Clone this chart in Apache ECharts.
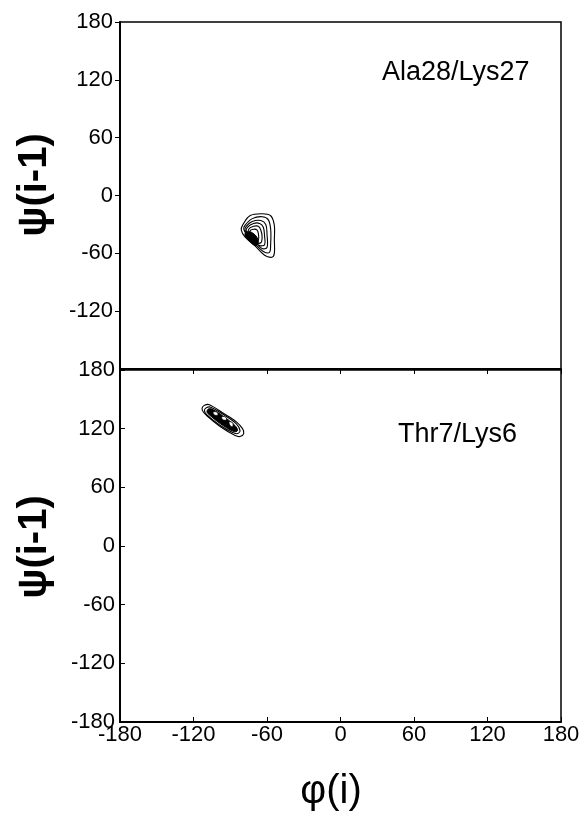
<!DOCTYPE html>
<html>
<head>
<meta charset="utf-8">
<script src="https://cdn.jsdelivr.net/npm/echarts@6/dist/echarts.min.js"></script>
<style>html,body{margin:0;padding:0;background:#fff}#c{width:584px;height:813px}</style>
</head>
<body>
<div id="c"></div>
<script>
// Tick values (degrees)
const phiTicks = [-180, -120, -60, 0, 60, 120, 180];
const psiTicks = [-180, -120, -60, 0, 60, 120, 180];
const panelLabels = ['Ala28/Lys27', 'Thr7/Lys6'];
const xName = 'φ(i)';
const yName = 'ψ(i-1)';

// Contour rings for Ala28/Lys27 (phi, psi), outer to inner
const alaRing1 = [[-80,-31],[-74,-21],[-64,-19],[-57,-21],[-54,-31],[-54,-46],[-54,-60],[-56,-64],[-62,-62],[-70,-52],[-78,-43],[-81,-36]];
const alaRing2 = [[-78,-31],[-72,-24],[-64,-22],[-59,-25],[-57,-35],[-57,-50],[-58,-59],[-63,-58],[-70,-50],[-76,-42],[-79,-35]];
const alaRing3 = [[-77,-32],[-72,-27],[-65,-26],[-61,-30],[-60,-40],[-60,-54],[-64,-55],[-70,-48],[-75,-42],[-78,-36]];
const alaRing4 = [[-76,-33],[-71,-29],[-66,-29],[-63,-33],[-62,-42],[-62,-51],[-66,-52],[-71,-47],[-75,-42],[-77,-37]];
const alaRing5 = [[-75,-35],[-71,-32],[-67,-32],[-65,-36],[-64,-43],[-65,-49],[-69,-49],[-72,-46],[-75,-41]];
const alaRing6 = [[-74,-37],[-71,-35],[-68,-36],[-67,-40],[-67,-46],[-70,-47],[-73,-43]];
const alaCore  = [[-77,-38],[-73,-38],[-69,-42],[-67,-48],[-69,-52],[-72,-50],[-76,-45],[-78,-41]];

// Contour rings for Thr7/Lys6
const thrRing1 = [[-113,141],[-111,144],[-107,144.5],[-96,136],[-85,127],[-80,120],[-79,115],[-82,112],[-86,113],[-98,122],[-108,132],[-112,137]];
const thrRing2 = [[-110,141],[-106,142],[-95,134],[-85,125],[-82,118],[-84,115],[-88,116],[-99,124],[-109,134],[-111,138]];
const thrCore  = [[-108,140],[-105,140],[-96,133],[-86,123],[-84,118],[-87,117],[-98,125],[-107,134],[-109,137]];
const thrHole1 = [[-104,137],[-101,137],[-100,134],[-103,134]];
const thrHole2 = [[-97,132],[-94,132],[-93,129],[-96,129]];
const thrHole3 = [[-91,127],[-88,126],[-88,122],[-90,123]];

const alaRings = [alaRing1, alaRing2, alaRing3, alaRing4, alaRing5, alaRing6];
const alaFilled = [alaCore];
const thrRings = [thrRing1, thrRing2];
const thrFilled = [thrCore];
const thrHoles = [thrHole1, thrHole2, thrHole3];

const chart = echarts.init(document.getElementById('c'), null, {renderer: 'canvas'});
const FONT = 'Liberation Sans, Arial, sans-serif';

function ringSeries(rings, idx, fill, stroke, lw) {
  return {
    type: 'custom',
    xAxisIndex: idx, yAxisIndex: idx,
    clip: false,
    silent: true,
    data: rings.map((r, i) => [i]),
    encode: {x: 0, y: 0},
    renderItem: function (params, api) {
      const ring = rings[params.dataIndex];
      const pts = ring.map(p => api.coord(p));
      return {
        type: 'polygon',
        shape: {points: pts, smooth: 0.35},
        style: {fill: fill, stroke: stroke, lineWidth: lw}
      };
    }
  };
}

function xAxis(idx, showLabels, inside) {
  return {
    type: 'value', gridIndex: idx, min: -180, max: 180, interval: 60,
    position: 'bottom',
    axisLine: {show: true, onZero: false, lineStyle: {color: '#000', width: 2}},
    axisTick: {show: true, inside: inside, length: 5, lineStyle: {color: '#000', width: 1}},
    axisLabel: {show: showLabels, color: '#000', fontFamily: FONT, fontSize: 22, margin: 2},
    splitLine: {show: false}
  };
}
function yAxis(idx, showMin, inside, margin) {
  return {
    type: 'value', gridIndex: idx, min: -180, max: 180, interval: 60,
    axisLine: {show: true, onZero: false, lineStyle: {color: '#000', width: 2}},
    axisTick: {show: true, inside: inside, length: 5, lineStyle: {color: '#000', width: 1}},
    axisLabel: {show: true, showMinLabel: showMin, color: '#000', fontFamily: FONT, fontSize: 22, margin: margin,
      formatter: v => (showMin || v !== -180) ? String(v) : ''},
    splitLine: {show: false}
  };
}

chart.setOption({
  animation: false,
  backgroundColor: '#fff',
  grid: [
    {left: 120, right: 23, top: 22, height: 347, show: true, borderColor: '#000', borderWidth: 1.5, backgroundColor: 'transparent'},
    {left: 120, right: 23, top: 370, height: 352, show: true, borderColor: '#000', borderWidth: 1.5, backgroundColor: 'transparent'}
  ],
  xAxis: [xAxis(0, false, false), xAxis(1, true, true)],
  yAxis: [yAxis(0, false, false, 7), yAxis(1, true, true, 5)],
  series: [
    ringSeries(alaRings, 0, 'none', '#000', 1.1),
    ringSeries(alaFilled, 0, '#000', '#000', 1),
    ringSeries(thrRings, 1, 'none', '#000', 1.1),
    ringSeries(thrFilled, 1, '#000', '#000', 1),
    ringSeries(thrHoles, 1, '#fff', '#000', 0.8)
  ],
  graphic: [
    {type: 'text', left: 382, top: 59, style: {text: panelLabels[0], fill: '#000', font: '27px ' + FONT}},
    {type: 'text', left: 398, top: 421, style: {text: panelLabels[1], fill: '#000', font: '27px ' + FONT}},
    {type: 'text', x: 35, y: 185, rotation: Math.PI / 2,
      style: {text: yName, fill: '#000', font: 'bold 40px ' + FONT, align: 'center', verticalAlign: 'middle'}},
    {type: 'text', x: 35, y: 547, rotation: Math.PI / 2,
      style: {text: yName, fill: '#000', font: 'bold 40px ' + FONT, align: 'center', verticalAlign: 'middle'}},
    {type: 'text', x: 331, y: 792,
      style: {text: xName, fill: '#000', font: '40px ' + FONT, align: 'center', verticalAlign: 'middle'}}
  ]
});
</script>
</body>
</html>
